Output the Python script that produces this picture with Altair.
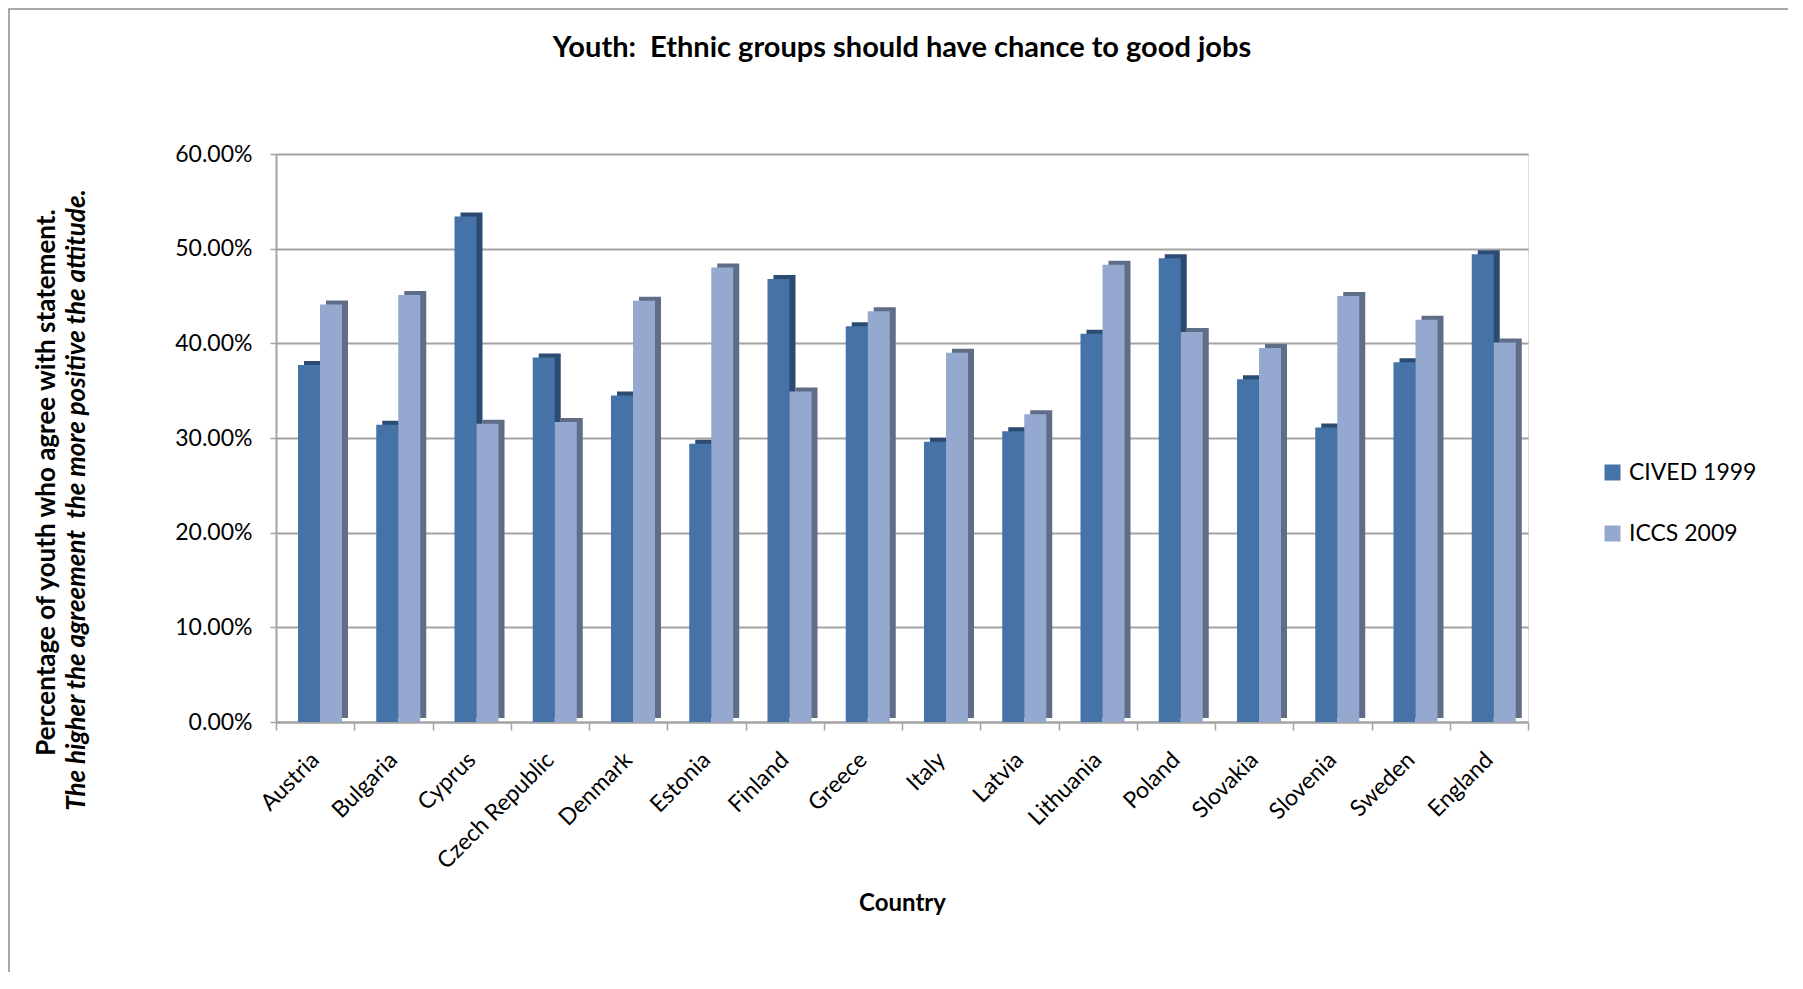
import altair as alt
import pandas as pd

countries = ["Austria", "Bulgaria", "Cyprus", "Czech Republic", "Denmark", "Estonia",
             "Finland", "Greece", "Italy", "Latvia", "Lithuania", "Poland",
             "Slovakia", "Slovenia", "Sweden", "England"]
cived_1999 = [0.377, 0.314, 0.534, 0.385, 0.345, 0.294, 0.468, 0.418,
              0.296, 0.307, 0.410, 0.490, 0.362, 0.311, 0.380, 0.494]
iccs_2009 = [0.441, 0.451, 0.315, 0.317, 0.445, 0.480, 0.349, 0.434,
             0.390, 0.325, 0.483, 0.412, 0.395, 0.450, 0.425, 0.401]
series_names = ["CIVED 1999", "ICCS 2009"]
y_ticks = [0.0, 0.1, 0.2, 0.3, 0.4, 0.5, 0.6]

title_text = "Youth:\u00a0 Ethnic groups should have chance to good jobs"
y_title_1 = "Percentage of youth who agree with statement."
y_title_2 = "The higher the agreement\u00a0 the more positive the attitude."
x_title = "Country"

rows = []
for c, a, b in zip(countries, cived_1999, iccs_2009):
    rows.append({"Country": c, "Series": series_names[0], "Value": a})
    rows.append({"Country": c, "Series": series_names[1], "Value": b})
df = pd.DataFrame(rows)

FONT = "Lato"
W, H = 1252, 568
PAD_L, PAD_T = 268, 146
GRID = "#A3A3A3"
front_colors = ["#4572A7", "#95A9D0"]
side_colors = ["#2C4B72", "#5F6D86"]

x_enc = alt.X(
    "Country:N", sort=countries,
    scale=alt.Scale(paddingInner=0, paddingOuter=0),
    title=x_title,
    axis=alt.Axis(
        labelAngle=-45, labelAlign="right", labelBaseline="middle",
        labelPadding=26, labelFont=FONT, labelFontSize=23, labelColor="black",
        tickBand="extent", ticks=True, tickSize=8, tickColor=GRID, tickWidth=1.5,
        domainColor=GRID, domainWidth=2, grid=False,
        titleFont=FONT, titleFontSize=24, titleFontWeight="bold", titleColor="black",
        titleY=181, titleBaseline="middle",
    ),
)
y_enc = alt.Y(
    "Value:Q",
    scale=alt.Scale(domain=[0, 0.6]),
    title=y_title_1,
    axis=alt.Axis(
        values=y_ticks, format=".2%", labelFont=FONT, labelFontSize=23,
        labelColor="black", labelPadding=18, tickSize=6, tickColor=GRID,
        tickWidth=1.5, domainColor=GRID, domainWidth=2,
        grid=True, gridColor=GRID, gridWidth=2,
        titleFont=FONT, titleFontSize=26, titleFontWeight="bold", titleColor="black",
        titleX=-230, titleY=328, titleAngle=270, titleBaseline="middle",
        titleAlign="center",
    ),
)

base = alt.Chart(df)

side = base.mark_bar(yOffset=-4).encode(
    x=x_enc,
    y=y_enc,
    xOffset=alt.XOffset("Series:N", sort=series_names,
                        scale=alt.Scale(domain=series_names, range=[28, 72])),
    color=alt.Color("Series:N", scale=alt.Scale(domain=series_names, range=side_colors),
                    legend=None),
)

front = base.mark_bar().encode(
    x=x_enc,
    y=y_enc,
    xOffset=alt.XOffset("Series:N", sort=series_names,
                        scale=alt.Scale(domain=series_names, range=[22, 66])),
    color=alt.Color(
        "Series:N",
        scale=alt.Scale(domain=series_names, range=front_colors),
        legend=alt.Legend(
            title=None, orient="none", legendX=1325, legendY=307,
            symbolType="square", symbolSize=256, symbolStrokeWidth=0,
            labelFont=FONT, labelFontSize=23, labelColor="black",
            rowPadding=37, labelOffset=5,
        ),
    ),
)

ytitle2 = alt.Chart(alt.Data(values=[{}])).mark_text(
    angle=270, font=FONT, fontSize=26, fontWeight="bold", fontStyle="italic",
    align="center", baseline="middle", color="black",
).encode(x=alt.value(-199), y=alt.value(346), text=alt.value(y_title_2))

frame = alt.Chart(alt.Data(values=[{}])).mark_rect(
    fill="white", fillOpacity=0, stroke="#8C8C8C", strokeWidth=1.5,
).encode(
    x=alt.value(1 - PAD_L), y=alt.value(1 - PAD_T),
    x2=alt.value(W + 400), y2=alt.value(H + 400),
)

chart = (
    alt.layer(frame, side, front, ytitle2)
    .resolve_scale(color="independent", xOffset="independent")
    .properties(
        width=W, height=H,
        autosize=alt.AutoSizeParams(type="none"),
        padding={"left": PAD_L, "top": PAD_T, "right": 260, "bottom": 250},
        title=alt.TitleParams(
            title_text, font=FONT, fontSize=29, fontWeight="bold", color="black",
            anchor="middle", offset=-55,
        ),
    )
    .configure_view(stroke=None)
    .configure(background="white")
)

chart.save("out.html", embed_options={"renderer": "svg", "actions": False})
